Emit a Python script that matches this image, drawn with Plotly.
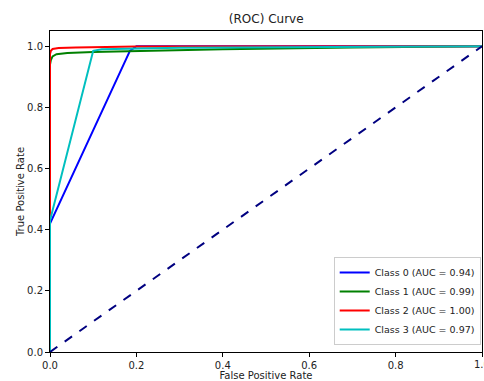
import plotly.graph_objects as go

class_names = ["Class 0 (AUC = 0.94)", "Class 1 (AUC = 0.99)", "Class 2 (AUC = 1.00)", "Class 3 (AUC = 0.97)"]
colors = ["blue", "green", "red", "#00bfbf"]

fpr0 = [0.0, 0.0, 0.185, 0.2, 1.0]
tpr0 = [0.0, 0.42, 0.985, 1.0, 1.0]
fpr1 = [0.0, 0.0, 0.002, 0.006, 0.015, 0.04, 0.1, 0.2, 0.4, 0.7, 1.0]
tpr1 = [0.0, 0.94, 0.955, 0.967, 0.974, 0.978, 0.981, 0.984, 0.99, 0.996, 1.0]
fpr2 = [0.0, 0.0, 0.002, 0.006, 0.02, 0.06, 0.2, 1.0]
tpr2 = [0.0, 0.975, 0.985, 0.991, 0.994, 0.996, 0.999, 1.0]
fpr3 = [0.0, 0.0, 0.1, 0.12, 0.3, 1.0]
tpr3 = [0.0, 0.43, 0.985, 0.99, 0.995, 1.0]
diag_x = [0.0, 1.0]
diag_y = [0.0, 1.0]
tick_vals = [0.0, 0.2, 0.4, 0.6, 0.8, 1.0]
tick_text = ["0.0", "0.2", "0.4", "0.6", "0.8", "1.0"]

xs = [fpr0, fpr1, fpr2, fpr3]
ys = [tpr0, tpr1, tpr2, tpr3]

fig = go.Figure()
for name, c, x, y in zip(class_names, colors, xs, ys):
    fig.add_trace(go.Scatter(x=x, y=y, mode="lines", name=name,
                             line=dict(color=c, width=2)))
fig.add_trace(go.Scatter(x=diag_x, y=diag_y, mode="lines", showlegend=False,
                         line=dict(color="navy", width=2, dash="dash")))

axis_common = dict(showline=True, linecolor="black", linewidth=1, mirror=True,
                   ticks="outside", ticklen=4, tickcolor="black", showgrid=False,
                   zeroline=False, tickfont=dict(size=10, color="#222"),
                   tickvals=tick_vals, ticktext=tick_text, automargin=False)
fig.update_layout(
    width=484, height=381,
    margin=dict(l=50, r=2, t=31, b=29),
    paper_bgcolor="white", plot_bgcolor="white",
    font=dict(family="DejaVu Sans", size=10, color="#222"),
    title=dict(text="(ROC) Curve", x=0.55, xanchor="center", y=0.95, yanchor="middle",
               font=dict(size=12, color="#222")),
    xaxis=dict(range=[0, 1],
               title=dict(text="False Positive Rate", standoff=2, font=dict(size=10)),
               **axis_common),
    yaxis=dict(range=[0, 1.05],
               title=dict(text="True Positive Rate", standoff=0, font=dict(size=10)),
               **axis_common),
    legend=dict(x=0.997, y=0.022, xanchor="right", yanchor="bottom",
                bgcolor="rgba(255,255,255,0.9)", bordercolor="#ccc", borderwidth=1,
                font=dict(size=9.5), tracegroupgap=0),
    showlegend=True,
)
# last x tick label, which the reference shows partly cut by the right edge
fig.add_annotation(x=tick_vals[-1], xref="x", y=0, yref="paper", text=tick_text[-1],
                   showarrow=False, xanchor="center", yanchor="top", yshift=-5,
                   font=dict(size=10, color="#222"))
fig.write_html("out.html", config={"displayModeBar": False},
               post_script="document.body.style.margin='0';document.body.style.padding='0';")
